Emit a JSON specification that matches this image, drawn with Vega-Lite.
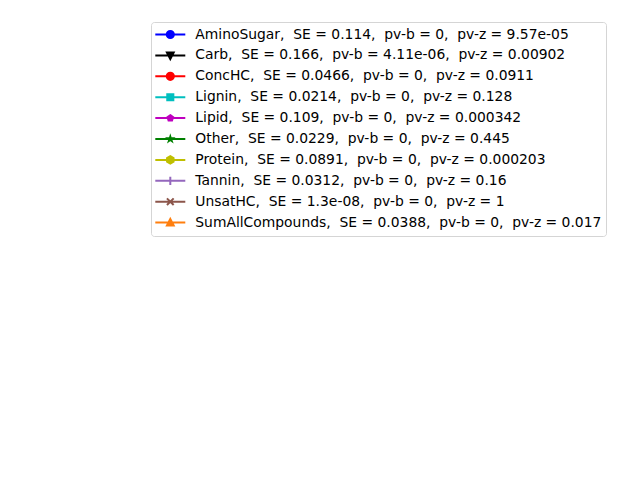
{
  "$schema": "https://vega.github.io/schema/vega-lite/v6.json",
  "width": 640,
  "height": 480,
  "autosize": {"type": "fit", "contains": "padding"},
  "padding": 0,
  "background": "white",
  "view": {"stroke": null},
  "data": {
    "values": [
      {"compound": "AminoSugar", "label": "AminoSugar,\u00a0 SE = 0.114,\u00a0 pv-b = 0,\u00a0 pv-z = 9.57e-05"},
      {"compound": "Carb", "label": "Carb,\u00a0 SE = 0.166,\u00a0 pv-b = 4.11e-06,\u00a0 pv-z = 0.00902"},
      {"compound": "ConcHC", "label": "ConcHC,\u00a0 SE = 0.0466,\u00a0 pv-b = 0,\u00a0 pv-z = 0.0911"},
      {"compound": "Lignin", "label": "Lignin,\u00a0 SE = 0.0214,\u00a0 pv-b = 0,\u00a0 pv-z = 0.128"},
      {"compound": "Lipid", "label": "Lipid,\u00a0 SE = 0.109,\u00a0 pv-b = 0,\u00a0 pv-z = 0.000342"},
      {"compound": "Other", "label": "Other,\u00a0 SE = 0.0229,\u00a0 pv-b = 0,\u00a0 pv-z = 0.445"},
      {"compound": "Protein", "label": "Protein,\u00a0 SE = 0.0891,\u00a0 pv-b = 0,\u00a0 pv-z = 0.000203"},
      {"compound": "Tannin", "label": "Tannin,\u00a0 SE = 0.0312,\u00a0 pv-b = 0,\u00a0 pv-z = 0.16"},
      {"compound": "UnsatHC", "label": "UnsatHC,\u00a0 SE = 1.3e-08,\u00a0 pv-b = 0,\u00a0 pv-z = 1"},
      {"compound": "SumAllCompounds", "label": "SumAllCompounds,\u00a0 SE = 0.0388,\u00a0 pv-b = 0,\u00a0 pv-z = 0.017"}
    ]
  },
  "mark": {"type": "point", "filled": true, "opacity": 0},
  "encoding": {
    "color": {
      "field": "label",
      "type": "nominal",
      "sort": null,
      "scale": {"range": ["#0000ff", "#000000", "#ff0000", "#00bfbf", "#bf00bf", "#008000", "#bfbf00", "#9467bd", "#8c564b", "#ff7f0e"]},
      "legend": {
        "orient": "none",
        "legendX": 151,
        "legendY": 22,
        "title": null,
        "encode": {
          "symbols": {
            "update": {
              "stroke": {"scale": "color", "field": "value"},
              "strokeWidth": {"value": 2},
              "strokeCap": {"value": "butt"}
            }
          }
        }
      }
    },
    "shape": {
      "field": "label",
      "type": "nominal",
      "sort": null,
      "scale": {"range": [
        "M-1.875,0L1.875,0M0.45,0A0.45,0.45,0,1,1,-0.45,0A0.45,0.45,0,1,1,0.45,0Z",
        "M-1.875,0L1.875,0M-0.42,-0.35L0.42,-0.35L0,0.45Z",
        "M-1.875,0L1.875,0M0.45,0A0.45,0.45,0,1,1,-0.45,0A0.45,0.45,0,1,1,0.45,0Z",
        "M-1.875,0L1.875,0M-0.38,-0.38L0.38,-0.38L0.38,0.38L-0.38,0.38Z",
        "M-1.875,0L1.875,0M0,-0.37L0.352,-0.114L0.217,0.3L-0.217,0.3L-0.352,-0.114Z",
        "M-1.875,0L1.875,0M0,-0.3L0.067,-0.093L0.285,-0.093L0.109,0.036L0.176,0.243L0,0.115L-0.176,0.243L-0.109,0.036L-0.285,-0.093L-0.067,-0.093Z",
        "M-1.875,0L1.875,0M0,-0.47L0.407,-0.235L0.407,0.235L0,0.47L-0.407,0.235L-0.407,-0.235Z",
        "M-1.875,0L1.875,0M0,-0.52L0,0.52",
        "M-1.875,0L1.875,0M-0.42,-0.42L0.42,0.42M-0.42,0.42L0.42,-0.42",
        "M-1.875,0L1.875,0M0,-0.45L0.42,0.35L-0.42,0.35Z"
      ]}
    }
  },
  "config": {
    "legend": {
      "symbolSize": 256,
      "symbolStrokeWidth": 2,
      "symbolOpacity": 1,
      "symbolOffset": 6.3,
      "labelFont": "DejaVu Sans",
      "labelFontSize": 13.89,
      "labelColor": "black",
      "labelLimit": 1000,
      "labelOffset": 16,
      "padding": 4,
      "clipHeight": 17,
      "rowPadding": 3.9,
      "strokeColor": "#d5d5d5",
      "fillColor": "white",
      "cornerRadius": 3
    }
  }
}
